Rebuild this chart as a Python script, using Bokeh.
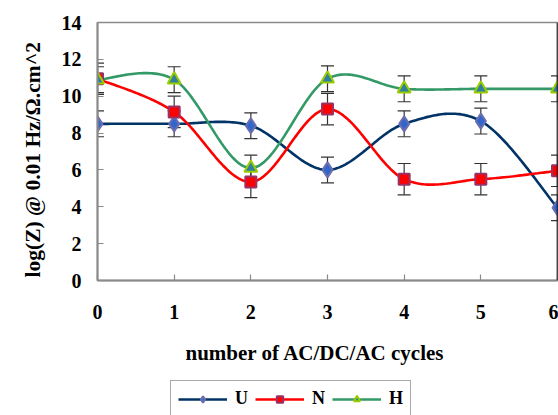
import numpy as np
from bokeh.plotting import figure
from bokeh.layouts import column
from bokeh.models import (ColumnDataSource, Whisker, TeeHead, Legend, LegendItem,
                          Span, FixedTicker, Range1d, Title, Label)
from bokeh.embed import file_html
from bokeh.resources import INLINE

cycles = [0, 1, 2, 3, 4, 5, 6]
U = [8.5, 8.5, 8.4, 6.0, 8.5, 8.65, 3.95]
N = [10.95, 9.15, 5.35, 9.3, 5.5, 5.5, 5.95]
H = [10.9, 10.9, 6.1, 10.95, 10.4, 10.4, 10.4]
U_err = [0.7, 0.7, 0.7, 0.7, 0.7, 0.7, 0.7]
N_err = [0.85, 0.85, 0.85, 0.85, 0.85, 0.85, 0.85]
H_err = [0.7, 0.7, 0.7, 0.7, 0.7, 0.7, 0.7]
y_ticks = [0, 2, 4, 6, 8, 10, 12, 14]
x_title = "number of AC/DC/AC cycles"
y_title = "log(Z) @ 0.01 Hz/\u03a9.cm^2"

FONT = "Liberation Serif"


def smooth(xs, ys, n=40):
    """Excel-like smoothed line (Catmull-Rom Bezier) through the data points."""
    P = np.column_stack([np.asarray(xs, float), np.asarray(ys, float)])
    m = len(P)
    out = []
    t = np.linspace(0, 1, n)[:, None]
    for i in range(m - 1):
        p0 = P[max(i - 1, 0)]
        p1 = P[i]
        p2 = P[i + 1]
        p3 = P[min(i + 2, m - 1)]
        c1 = p1 + (p2 - p0) / 6.0
        c2 = p2 - (p3 - p1) / 6.0
        seg = ((1 - t) ** 3) * p1 + 3 * ((1 - t) ** 2) * t * c1 + 3 * (1 - t) * t ** 2 * c2 + t ** 3 * p2
        out.append(seg if i == 0 else seg[1:])
    arr = np.vstack(out)
    return arr[:, 0], arr[:, 1]


p = figure(width=558, height=332, output_backend="svg", toolbar_location=None,
           x_range=Range1d(0, 6), y_range=Range1d(0, 14),
           min_border_left=97, min_border_right=1, min_border_top=22, min_border_bottom=52)

p.xgrid.visible = False
p.ygrid.visible = False
p.outline_line_color = "#8a8a8a"
p.outline_line_width = 1.5
p.background_fill_color = "white"
p.border_fill_color = "white"

series = [
    ("U", U, U_err, "#003366", "diamond", "#3366cc", "#6b6fae", 15),
    ("N", N, N_err, "#ff0000", "square", "#ff0000", "#993366", 11),
    ("H", H, H_err, "#339966", "triangle", "#2f7f9f", "#99cc00", 13),
]

# lower strip: x-axis title and legend (its y range hides the data)
q = figure(width=558, height=83, output_backend="svg", toolbar_location=None,
           x_range=Range1d(0, 6), y_range=Range1d(100, 101),
           min_border=0, outline_line_color=None)
q.axis.visible = False
q.grid.visible = False
q.border_fill_color = "white"

leg_items = []
for name, vals, errs, lc, mk, fc, mlc, sz in series:
    src = ColumnDataSource(dict(x=cycles, y=vals,
                                upper=[v + e for v, e in zip(vals, errs)],
                                lower=[v - e for v, e in zip(vals, errs)]))
    w = Whisker(source=src, base="x", upper="upper", lower="lower",
                line_color="#333333", line_width=1.2, level="underlay",
                upper_head=TeeHead(size=13, line_color="#333333", line_width=1.2),
                lower_head=TeeHead(size=13, line_color="#333333", line_width=1.2))
    p.add_layout(w)
    sx, sy = smooth(cycles, vals)
    p.line(sx, sy, line_color=lc, line_width=2.6)
    ql = q.line(sx, sy, line_color=lc, line_width=2.6)
    qs = q.scatter("x", "y", source=src, marker=mk, size=sz - 3, fill_color=fc,
                   line_color=mlc, line_width=2)
    leg_items.append(LegendItem(label=name, renderers=[ql, qs]))

for name, vals, errs, lc, mk, fc, mlc, sz in series:
    p.scatter(cycles, vals, marker=mk, size=sz, fill_color=fc,
              line_color=mlc, line_width=2)

p.add_layout(Span(location=6, dimension="height", line_color="black", line_width=1.5))

# axes
for ax in (p.xaxis[0], p.yaxis[0]):
    ax.axis_line_color = "#8a8a8a"
    ax.axis_line_width = 2
    ax.major_tick_line_color = "#8a8a8a"
    ax.major_tick_line_width = 1.2
    ax.major_tick_in = 6
    ax.major_tick_out = 0
    ax.minor_tick_line_color = None
    ax.major_label_text_font = FONT
    ax.major_label_text_font_style = "bold"
    ax.major_label_text_font_size = "20px"
    ax.major_label_text_color = "black"

p.xaxis.ticker = FixedTicker(ticks=cycles)
p.yaxis.ticker = FixedTicker(ticks=y_ticks)
p.xaxis.major_label_standoff = 24
p.yaxis.major_label_standoff = 16

p.add_layout(Title(text=y_title, align="left", offset=3, standoff=24, vertical_align="top",
                   text_font=FONT, text_font_style="bold", text_font_size="21.5px",
                   text_color="black"), "left")

q.add_layout(Label(x=88, y=63, x_units="screen", y_units="screen", text=x_title,
                   text_align="left", text_baseline="middle",
                   text_font=FONT, text_font_style="bold", text_font_size="21px",
                   text_color="black"))

legend = Legend(items=leg_items, orientation="horizontal", location=(73, -2),
                label_text_font=FONT, label_text_font_style="bold",
                label_text_font_size="18px", label_text_color="black",
                glyph_width=49, glyph_height=16, label_standoff=8, label_width=12,
                spacing=7, padding=7, margin=0, border_line_color="#555555",
                border_line_width=1, background_fill_alpha=1.0)
q.add_layout(legend, "center")

layout = column(p, q, spacing=0)
open("out.html", "w").write(file_html(layout, INLINE))
